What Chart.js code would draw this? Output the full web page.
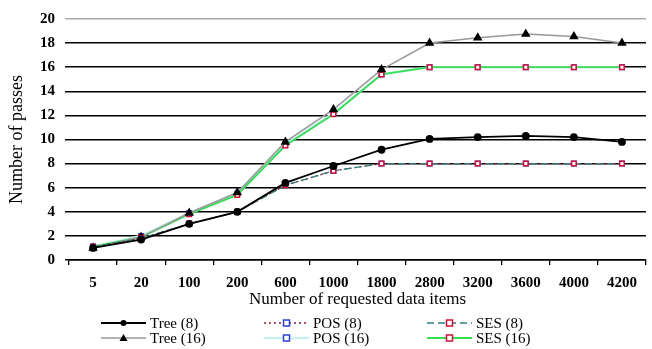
<!DOCTYPE html>
<html><head><meta charset="utf-8">
<script src="https://cdn.jsdelivr.net/npm/chart.js@4/dist/chart.umd.min.js"></script>
<style>html,body{margin:0;padding:0;background:#fff}#wrap{width:652px;height:349px;position:relative}</style>
</head><body><div id="wrap"><canvas id="c" width="652" height="349"></canvas></div>
<script>
const categories = ['5','20','100','200','600','1000','1800','2800','3200','3600','4000','4200'];
const tree8  = [1.0, 1.7, 3.0, 4.0, 6.4, 7.8, 9.15, 10.05, 10.2, 10.3, 10.2, 9.8];
const tree16 = [1.0, 1.9, 3.9, 5.6, 9.8, 12.5, 15.8, 18.0, 18.45, 18.75, 18.55, 18.0];
const pos8   = [1.1, 1.8, 3.0, 4.0, 6.2, 7.4, 8.0, 8.0, 8.0, 8.0, 8.0, 8.0];
const ses8   = [1.1, 1.8, 3.0, 4.0, 6.2, 7.4, 8.0, 8.0, 8.0, 8.0, 8.0, 8.0];
const pos16  = [1.1, 2.0, 3.9, 5.5, 9.6, 12.2, 15.4, 16.0, 16.0, 16.0, 16.0, 16.0];
const ses16  = [1.1, 1.9, 3.8, 5.4, 9.5, 12.1, 15.4, 16.0, 16.0, 16.0, 16.0, 16.0];
const yTicks = [0,2,4,6,8,10,12,14,16,18,20];

const FONT = "'Liberation Serif', 'Times New Roman', serif";

const datasets = [
  {label:'Tree (8)', data:tree8, borderColor:'#000', borderWidth:1.8, pointStyle:'circle', pointRadius:3, pointBackgroundColor:'#000', pointBorderColor:'#000', order:1},
  {label:'POS (8)', data:pos8, borderColor:'#8b1a2b', borderWidth:1.3, borderDash:[2,3], pointStyle:'rect', pointRadius:3.2, pointBackgroundColor:'#fff', pointBorderColor:'#3040d0', pointBorderWidth:1.5, order:3},
  {label:'SES (8)', data:ses8, borderColor:'#2f7f80', borderWidth:1.3, borderDash:[7,4], pointStyle:'rect', pointRadius:3.2, pointBackgroundColor:'#fff', pointBorderColor:'#d0103a', pointBorderWidth:1.5, order:2},
  {label:'Tree (16)', data:tree16, borderColor:'#999', borderWidth:1.5, pointStyle:'triangle', pointRadius:4, pointBackgroundColor:'#000', pointBorderColor:'#000', order:4},
  {label:'POS (16)', data:pos16, borderColor:'#cdeeee', borderWidth:2.5, pointStyle:'rect', pointRadius:3.2, pointBackgroundColor:'#fff', pointBorderColor:'#3040d0', pointBorderWidth:1.5, order:6},
  {label:'SES (16)', data:ses16, borderColor:'#33dd55', borderWidth:1.8, pointStyle:'rect', pointRadius:3.2, pointBackgroundColor:'#fff', pointBorderColor:'#d0103a', pointBorderWidth:1.5, order:5}
];
datasets.forEach(d=>{d.tension=0;d.fill=false;});

const legendPlugin = {
  id:'customLegend',
  afterDraw(chart){
    const ctx = chart.ctx;
    const cols = [101, 264, 427];
    const rows = [323, 338];
    ctx.save();
    chart.data.datasets.forEach((d,i)=>{
      const x = cols[i%3], y = rows[Math.floor(i/3)];
      ctx.beginPath();
      ctx.strokeStyle = d.borderColor;
      ctx.lineWidth = d.borderWidth;
      ctx.setLineDash(d.borderDash||[]);
      ctx.moveTo(x,y); ctx.lineTo(x+45,y); ctx.stroke();
      ctx.setLineDash([]);
      const cx = x+22.5;
      ctx.fillStyle = d.pointBackgroundColor;
      ctx.strokeStyle = d.pointBorderColor;
      ctx.lineWidth = d.pointBorderWidth||1;
      if(d.pointStyle==='circle'){ctx.beginPath();ctx.arc(cx,y,3,0,Math.PI*2);ctx.fill();}
      else if(d.pointStyle==='triangle'){ctx.beginPath();ctx.moveTo(cx,y-4);ctx.lineTo(cx+4,y+3);ctx.lineTo(cx-4,y+3);ctx.closePath();ctx.fill();}
      else {ctx.fillRect(cx-3,y-3,6,6);ctx.strokeRect(cx-3,y-3,6,6);}
      ctx.fillStyle='#000';
      ctx.font = "15px " + FONT;
      ctx.textBaseline='middle';
      ctx.textAlign='left';
      ctx.fillText(d.label, x+49, y+1);
    });
    ctx.restore();
  }
};

new Chart(document.getElementById('c'), {
  type:'line',
  data:{labels:categories, datasets},
  plugins:[legendPlugin],
  options:{
    responsive:false, animation:false,
    layout:{padding:{top:17, right:6, bottom:39, left:6}},
    plugins:{legend:{display:false}, tooltip:{enabled:false}},
    scales:{
      x:{
        offset:true,
        grid:{offset:true, drawOnChartArea:false, drawTicks:true, tickLength:5, color:'#000', lineWidth:1.3},
        border:{display:true, color:'#000', width:1.5},
        ticks:{color:'#000', font:{family:FONT, size:15, weight:'bold'}, padding:9},
        title:{display:true, text:'Number of requested data items', color:'#000', font:{family:FONT, size:17}, padding:{top:0,bottom:0}},
        afterFit(s){ s.height = 50; }
      },
      y:{
        min:0, max:20,
        afterBuildTicks(s){ s.ticks = yTicks.map(v=>({value:v})); },
        grid:{color:(c)=> c.tick && c.tick.value===20 ? '#aaa' : '#000', lineWidth:1.5, tickLength:4, drawTicks:true},
        border:{display:false},
        ticks:{color:'#000', font:{family:FONT, size:15, weight:'bold'}, padding:10},
        title:{display:true, text:'Number of passes', color:'#000', font:{family:FONT, size:18}, padding:{top:0,bottom:4}},
        afterFit(s){ s.width = 63; }
      }
    }
  }
});
</script>
</body></html>
